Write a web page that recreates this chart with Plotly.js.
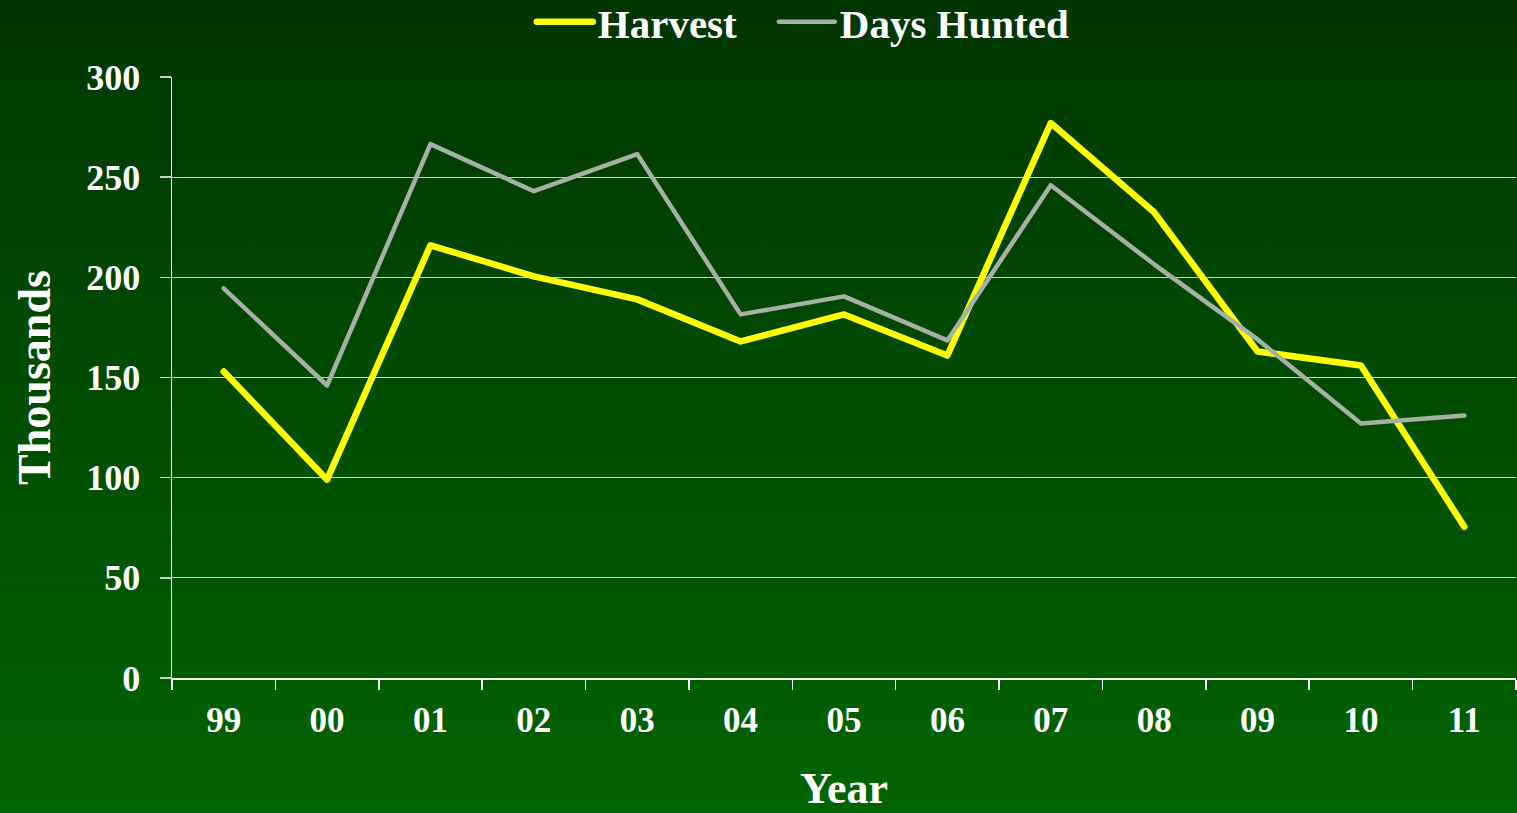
<!DOCTYPE html>
<html>
<head>
<meta charset="utf-8">
<script src="https://cdn.plot.ly/plotly-3.0.1.min.js"></script>
<style>
  html, body { margin: 0; padding: 0; }
  #chart { width: 1517px; height: 813px; background: linear-gradient(to bottom, #003600 0%, #004a00 45%, #006400 100%); }
  .scatterlayer path.js-line { stroke-linecap: round; stroke-linejoin: round; }
  .legend path.js-line { stroke-linecap: round; }
</style>
</head>
<body>
<div id="chart"></div>
<script>
const years = ['99','00','01','02','03','04','05','06','07','08','09','10','11'];
const harvest = [153, 99, 216, 200.5, 189, 168, 181.5, 161, 277, 232.5, 163, 156, 75.5];
const daysHunted = [194.5, 146, 266.5, 243, 261.5, 181.5, 190.5, 168.5, 246, 206.5, 169, 127, 131];

const fontFamily = '"Liberation Serif", "Times New Roman", serif';

const traces = [
  { x: years, y: harvest, name: 'Harvest', type: 'scatter', mode: 'lines',
    line: { color: '#ffff00', width: 6.5 }, legendwidth: 171 },
  { x: years, y: daysHunted, name: 'Days Hunted', type: 'scatter', mode: 'lines',
    line: { color: '#a6b0a6', width: 4.5 }, legendwidth: 260 }
];

const layout = {
  width: 1517, height: 813,
  paper_bgcolor: 'rgba(0,0,0,0)',
  plot_bgcolor: 'rgba(0,0,0,0)',
  margin: { l: 172, r: 1, t: 77, b: 135, autoexpand: false },
  font: { family: fontFamily, color: '#ffffff', size: 36, weight: 'bold' },
  showlegend: true,
  legend: {
    orientation: 'h', x: 0.2677, xanchor: 'left', y: 1.0915, yanchor: 'middle',
    font: { family: fontFamily, size: 41, color: '#ffffff', weight: 'bold' },
    bgcolor: 'rgba(0,0,0,0)', itemwidth: 56, traceorder: 'normal'
  },
  xaxis: {
    type: 'category', range: [-0.5, 12.5],
    tickson: 'boundaries', ticks: 'outside', ticklen: 10, tickcolor: '#ffffff', tickwidth: 1.5,
    showline: true, linecolor: '#ffffff', linewidth: 1.5,
    showgrid: false, zeroline: false,
    tickfont: { family: fontFamily, size: 35, color: '#ffffff', weight: 'bold' },
    ticklabelstandoff: 10,
    title: { text: 'Year', font: { family: fontFamily, size: 44, color: '#ffffff', weight: 'bold' }, standoff: 44 }
  },
  yaxis: {
    range: [0, 300], dtick: 50, tick0: 0,
    ticks: 'outside', ticklen: 11, tickcolor: '#c8d2c8', tickwidth: 1.5,
    showline: true, linecolor: '#ffffff', linewidth: 1.5,
    showgrid: true, gridcolor: '#c8d2c8', gridwidth: 1.2,
    zeroline: false,
    tickfont: { family: fontFamily, size: 36, color: '#ffffff', weight: 'bold' },
    ticklabelstandoff: 12,
    title: { text: 'Thousands', font: { family: fontFamily, size: 46, color: '#ffffff', weight: 'bold' }, standoff: 21 }
  }
};

Plotly.newPlot('chart', traces, layout, { displayModeBar: false, staticPlot: true }).then(function (gd) {
  // lengthen the legend line swatches to match the reference
  gd.querySelectorAll('.legend .legendlines path.js-line').forEach(function (p) {
    p.setAttribute('d', 'M5,0h56');
  });
});
</script>
</body>
</html>
